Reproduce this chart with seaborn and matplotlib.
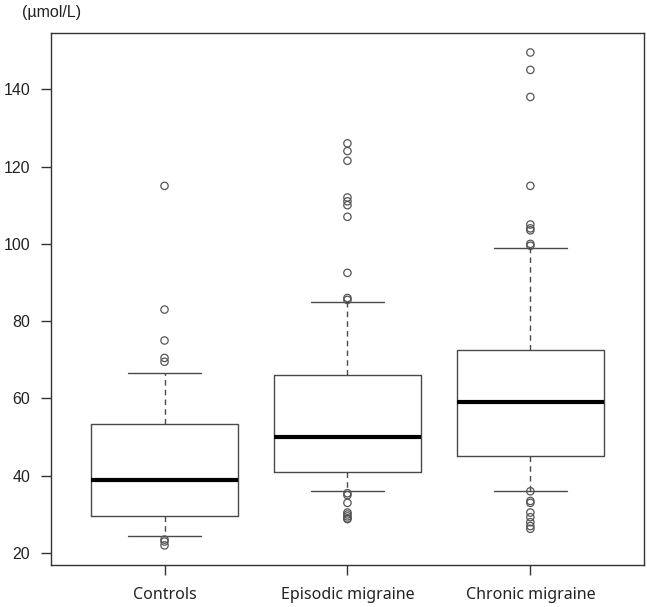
import numpy as np
import pandas as pd
import seaborn as sns
import matplotlib.pyplot as plt

# values (µmol/L)
groups = ["Controls", "Episodic migraine", "Chronic migraine"]
whisker_low = [24.5, 36.0, 36.0]
q1 = [29.5, 41.0, 45.0]
median = [39.0, 50.0, 59.0]
q3 = [53.5, 66.0, 72.5]
whisker_high = [66.5, 85.0, 99.0]

outliers_controls = [115, 83, 75, 70.5, 69.5, 23.5, 23, 22]
outliers_episodic = [126, 124, 121.5, 112, 111, 110, 107, 92.5, 86, 85.5,
                     35.5, 35, 33, 30.5, 30, 29.5, 29, 28.8]
outliers_chronic = [149.5, 145, 138, 115, 105, 104, 103.5, 100, 99.5,
                    36, 33.5, 33, 30.5, 29.3, 28, 27, 26.3]

sns.set_style("white")
plt.rcParams["font.family"] = ["Liberation Sans", "DejaVu Sans"]

fig = plt.figure(figsize=(6.47, 6.07), dpi=100)
ax = fig.add_axes([0.079, 0.069, 0.916, 0.877])

# box statistics for bxp
stats = []
for i, g in enumerate(groups):
    stats.append({
        "label": g,
        "whislo": whisker_low[i],
        "q1": q1[i],
        "med": median[i],
        "q3": q3[i],
        "whishi": whisker_high[i],
        "fliers": [],
    })

line_col = "#4a4a4a"
ax.bxp(stats, positions=[0, 1, 2], widths=0.8, capwidths=0.4,
       showfliers=False, patch_artist=False,
       boxprops=dict(color=line_col, linewidth=1.0),
       medianprops=dict(color="black", linewidth=3.0, solid_capstyle="butt"),
       whiskerprops=dict(color=line_col, linewidth=1.0, linestyle=(0, (4, 3))),
       capprops=dict(color=line_col, linewidth=1.0))

# outliers as open circles
out_df = pd.DataFrame({
    "group": [groups[0]] * len(outliers_controls)
             + [groups[1]] * len(outliers_episodic)
             + [groups[2]] * len(outliers_chronic),
    "value": outliers_controls + outliers_episodic + outliers_chronic,
})
sns.stripplot(data=out_df, x="group", y="value", order=groups, jitter=False,
              size=5.3, marker="o", color="none", edgecolor="#555555",
              linewidth=0.9, ax=ax)
ax.collections[-1].set_facecolor("none")
ax.collections[-1].set_edgecolor("#555555")

ax.set_xlim(-0.62, 2.62)
ax.set_ylim(16.9, 154.6)
ax.set_yticks([20, 40, 60, 80, 100, 120, 140])
ax.set_xticks([0, 1, 2])
ax.set_xticklabels(groups, fontsize=11.5, family=["Noto Sans", "DejaVu Sans"])
ax.set_xlabel("")
ax.set_ylabel("")
ax.tick_params(axis="y", labelsize=11.5, length=7, width=1, color="#333333",
               pad=8, left=True, labelcolor="#222222")
ax.tick_params(axis="x", length=7, width=1, color="#333333", pad=9,
               bottom=True, labelcolor="#222222")
for s in ax.spines.values():
    s.set_visible(True)
    s.set_color("#333333")
    s.set_linewidth(1.0)

fig.text(0.034, 0.979, "(µmol/L)", fontsize=11.5, color="#222222",
         ha="left", va="center")

fig.savefig("out.png", dpi=100)
